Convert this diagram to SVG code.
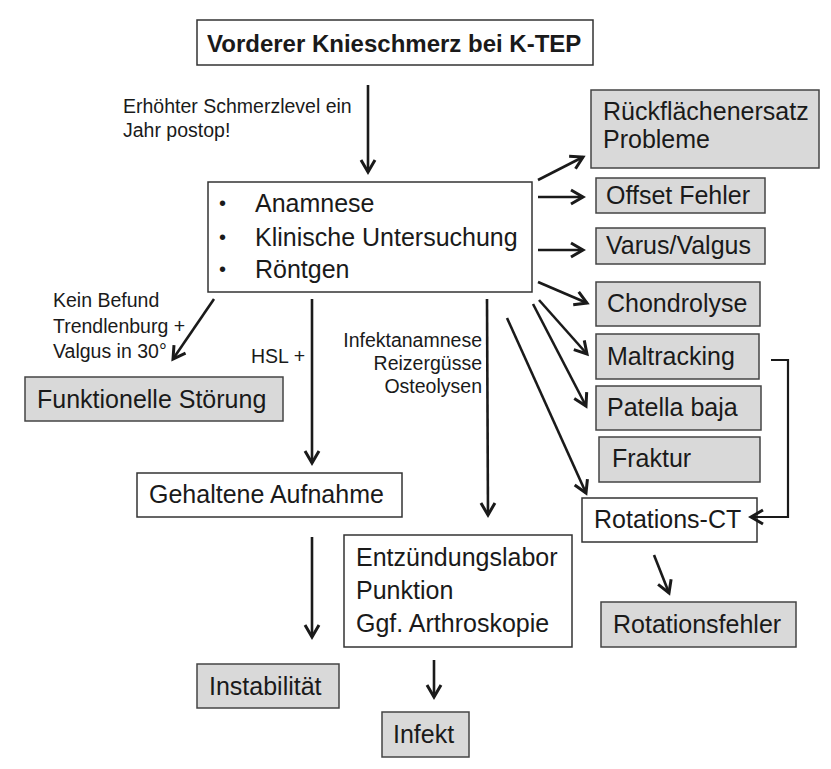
<svg xmlns="http://www.w3.org/2000/svg" width="831" height="769" viewBox="0 0 831 769">
<style>
.box{fill:#fff;stroke:#333;stroke-width:1.5}
.grey{fill:#d9d9d9;stroke:#444;stroke-width:1.5}
.t{font-family:"Liberation Sans",Arial,sans-serif;font-size:25px;fill:#1a1a1a}
.lbl{font-family:"Liberation Sans",Arial,sans-serif;font-size:19.5px;fill:#1a1a1a}
.title{font-family:"Liberation Sans",Arial,sans-serif;font-size:24px;font-weight:bold;fill:#1a1a1a}
.c{fill:none;stroke:#1a1a1a;stroke-width:2.6;marker-end:url(#ah)}
.e{fill:none;stroke:#1a1a1a;stroke-width:2.2;marker-end:url(#ah)}
</style>
<defs>
<marker id="ah" markerUnits="userSpaceOnUse" markerWidth="20" markerHeight="20" viewBox="-14 -10 16 20" refX="0" refY="0" orient="auto">
<path d="M-12,-7 L0,0 L-12,7" fill="none" stroke="#1a1a1a" stroke-width="3" stroke-linejoin="miter"/>
</marker>
</defs>
<rect width="831" height="769" fill="#fff"/>

<g id="title"><rect class="box" x="197" y="20" width="396" height="45"/><text class="title" x="207" y="52">Vorderer Knieschmerz bei K-TEP</text></g>
<g id="label-top"><text class="lbl" x="123" y="113">Erhöhter Schmerzlevel ein</text><text class="lbl" x="123" y="137">Jahr postop!</text></g>
<g id="main"><rect class="box" x="208" y="182" width="324" height="110"/>
<text class="t" x="219" y="210" style="font-size:20px">•</text><text class="t" x="255" y="212">Anamnese</text>
<text class="t" x="219" y="244" style="font-size:20px">•</text><text class="t" x="255" y="246">Klinische Untersuchung</text>
<text class="t" x="219" y="276" style="font-size:20px">•</text><text class="t" x="255" y="278">Röntgen</text></g>

<g id="rueck"><rect class="grey" x="591" y="90" width="228" height="78"/><text class="t" x="603" y="120">Rückflächenersatz</text><text class="t" x="603" y="148">Probleme</text></g>
<g id="offset"><rect class="grey" x="596" y="178" width="169" height="35"/><text class="t" x="606" y="204">Offset Fehler</text></g>
<g id="varus"><rect class="grey" x="596" y="228" width="169" height="36"/><text class="t" x="606" y="254">Varus/Valgus</text></g>
<g id="chondro"><rect class="grey" x="596" y="282" width="164" height="44"/><text class="t" x="607" y="312">Chondrolyse</text></g>
<g id="maltr"><rect class="grey" x="596" y="334" width="163" height="45"/><text class="t" x="607" y="365">Maltracking</text></g>
<g id="patella"><rect class="grey" x="596" y="386" width="165" height="44"/><text class="t" x="607" y="416">Patella baja</text></g>
<g id="fraktur"><rect class="grey" x="599" y="437" width="161" height="45"/><text class="t" x="612" y="467">Fraktur</text></g>
<g id="rotct"><rect class="box" x="582" y="498" width="175" height="44"/><text class="t" x="594" y="528">Rotations-CT</text></g>
<g id="rotf"><rect class="grey" x="601" y="602" width="195" height="45"/><text class="t" x="613" y="633">Rotationsfehler</text></g>

<g id="label-kein"><text class="lbl" x="53" y="307">Kein Befund</text><text class="lbl" x="53" y="333">Trendlenburg +</text><text class="lbl" x="53" y="358">Valgus in 30°</text></g>
<g id="funkt"><rect class="grey" x="25" y="377" width="258" height="44"/><text class="t" x="37" y="408">Funktionelle Störung</text></g>
<g id="label-hsl"><text class="lbl" x="251" y="363">HSL +</text></g>
<g id="label-infekt"><text class="lbl" x="482" y="347" text-anchor="end">Infektanamnese</text><text class="lbl" x="482" y="370" text-anchor="end">Reizergüsse</text><text class="lbl" x="482" y="393" text-anchor="end">Osteolysen</text></g>
<g id="gehalt"><rect class="box" x="137" y="473" width="265" height="44"/><text class="t" x="149" y="503">Gehaltene Aufnahme</text></g>
<g id="entz"><rect class="box" x="344" y="535" width="228" height="112"/><text class="t" x="356" y="566">Entzündungslabor</text><text class="t" x="356" y="599">Punktion</text><text class="t" x="356" y="632">Ggf. Arthroskopie</text></g>
<g id="instab"><rect class="grey" x="197" y="664" width="142" height="44"/><text class="t" x="209" y="695">Instabilität</text></g>
<g id="infekt"><rect class="grey" x="382" y="712" width="87" height="45"/><text class="t" x="393" y="743">Infekt</text></g>

<g id="connectors">
<path class="c" d="M368,85 L368,172"/>
<path class="c" d="M538,180 L583,157"/>
<path class="c" d="M538,197 L583,197"/>
<path class="c" d="M538,250 L583,250"/>
<path class="c" d="M538,282 L587,303"/>
<path class="c" d="M539,300 L587,354"/>
<path class="c" d="M533,304 L586,406"/>
<path class="c" d="M507,318 L586,493"/>
<path class="c" d="M214,299 L173,359"/>
<path class="c" d="M312,299 L312,463"/>
<path class="c" d="M487,299 L488,515"/>
<path class="c" d="M312,537 L312,637"/>
<path class="c" d="M434,660 L434,697"/>
<path class="c" d="M654,555 L669,593"/>
<path class="e" d="M771,360 H788 V517 H751"/>
</g>
</svg>
